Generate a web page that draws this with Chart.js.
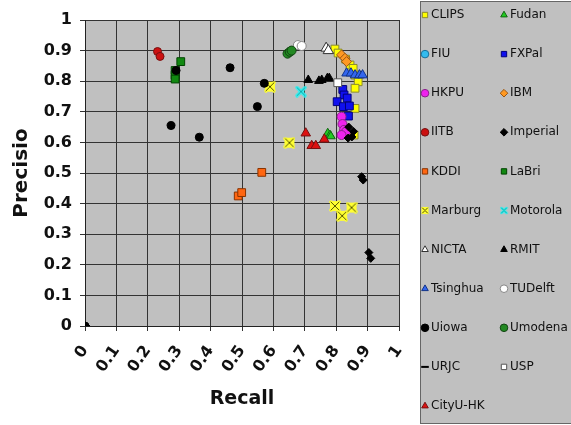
<!DOCTYPE html>
<html>
<head>
<meta charset="utf-8">
<script src="https://cdn.jsdelivr.net/npm/chart.js@4.4.1/dist/chart.umd.min.js"></script>
<style>
  body { margin: 0; background: #fff; }
  #wrap { width: 571px; height: 425px; }
</style>
</head>
<body>
<div id="wrap"><canvas id="prChart" width="571" height="425"></canvas></div>
<script>
// teams in legend order (read row by row, two columns)
const teams = ['CLIPS', 'Fudan', 'FIU', 'FXPal', 'HKPU', 'IBM', 'IITB', 'Imperial',
  'KDDI', 'LaBri', 'Marburg', 'Motorola', 'NICTA', 'RMIT', 'Tsinghua', 'TUDelft',
  'Uiowa', 'Umodena', 'URJC', 'USP', 'CityU-HK'];

const tickValues = [0, 0.1, 0.2, 0.3, 0.4, 0.5, 0.6, 0.7, 0.8, 0.9, 1];

// [recall, precision] per run
const clips = [[0.796, 0.905], [0.806, 0.892], [0.83, 0.872], [0.844, 0.853], [0.854, 0.842],
  [0.86, 0.82], [0.87, 0.798], [0.86, 0.777], [0.86, 0.711], [0.857, 0.624]];
const fudan = [[0.773, 0.63], [0.78, 0.624], [0.783, 0.62]];
const fiu = [];
const fxpal = [[0.821, 0.773], [0.825, 0.755], [0.835, 0.745], [0.803, 0.733], [0.823, 0.717],
  [0.842, 0.719], [0.839, 0.686]];
const hkpu = [[0.817, 0.684], [0.82, 0.66], [0.825, 0.641], [0.831, 0.635], [0.817, 0.624]];
const ibm = [[0.817, 0.886], [0.828, 0.875], [0.833, 0.864]];
const iitb = [[0.231, 0.897], [0.239, 0.881]];
const imperial = [[0.84, 0.65], [0.855, 0.636], [0.85, 0.618], [0.838, 0.614], [0.881, 0.488],
  [0.886, 0.477], [0.904, 0.24], [0.91, 0.221]];
const kddi = [[0.563, 0.502], [0.488, 0.425], [0.499, 0.436]];
const labri = [[0.305, 0.864], [0.287, 0.835], [0.287, 0.82], [0.287, 0.807]];
const marburg = [[0.589, 0.782], [0.651, 0.599], [0.796, 0.392], [0.819, 0.36], [0.849, 0.387]];
const motorola = [[0.688, 0.766]];
const nicta = [[0.768, 0.908], [0.775, 0.9]];
const rmit = [[0.711, 0.804], [0.745, 0.801], [0.754, 0.804], [0.772, 0.81], [0.778, 0.81]];
const tsinghua = [[0.833, 0.826], [0.847, 0.826], [0.86, 0.82], [0.874, 0.82], [0.884, 0.82]];
const tudelft = [[0.678, 0.918], [0.69, 0.915]];
const uiowa = [[0, 0], [0.462, 0.844], [0.274, 0.655], [0.364, 0.617], [0.571, 0.793],
  [0.549, 0.717], [0.29, 0.835]];
const umodena = [[0.645, 0.89], [0.652, 0.896], [0.658, 0.9]];
const urjc = [[0, 0]];
const usp = [[0.805, 0.795]];
const cityu = [[0.703, 0.63], [0.722, 0.589], [0.735, 0.589], [0.762, 0.61]];

const teamPoints = [clips, fudan, fiu, fxpal, hkpu, ibm, iitb, imperial, kddi, labri, marburg,
  motorola, nicta, rmit, tsinghua, tudelft, uiowa, umodena, urjc, usp, cityu];

// X-shaped markers (Marburg / Motorola) drawn into little canvases
function xMarker(fill, line, withBox, size) {
    const c = document.createElement('canvas');
    c.width = size; c.height = size;
    const g = c.getContext('2d');
    const a = 2, b = size - 2;
    if (withBox) {
        g.fillStyle = fill;
        g.fillRect(1, 1, size - 2, size - 2);
    }
    g.lineCap = 'round';
    g.strokeStyle = fill; g.lineWidth = size > 10 ? 3.5 : 2.5;
    g.beginPath(); g.moveTo(a, a); g.lineTo(b, b); g.moveTo(b, a); g.lineTo(a, b); g.stroke();
    g.strokeStyle = line; g.lineWidth = 1;
    g.beginPath(); g.moveTo(a, a); g.lineTo(b, b); g.moveTo(b, a); g.lineTo(a, b); g.stroke();
    return c;
}

const markers = {
    'CLIPS':    { style: 'rect', r: 5.5, bg: '#ffff00', border: '#8a8a30', bw: 1 },
    'Fudan':    { style: 'triangle', r: 5, bg: '#22cc22', border: '#116611', bw: 1 },
    'FIU':      { style: 'circle', r: 4, bg: '#33bbee', border: '#1a6f99', bw: 1 },
    'FXPal':    { style: 'rect', r: 5.5, bg: '#1010ee', border: '#00007a', bw: 1 },
    'HKPU':     { style: 'circle', r: 4.5, bg: '#ee22ee', border: '#882288', bw: 1 },
    'IBM':      { style: 'rectRot', r: 5, bg: '#ff9922', border: '#995511', bw: 1 },
    'IITB':     { style: 'circle', r: 4, bg: '#cc1111', border: '#771111', bw: 1 },
    'Imperial': { style: 'rectRot', r: 4, bg: '#000000', border: '#000000', bw: 1 },
    'KDDI':     { style: 'rect', r: 5.5, bg: '#ff6611', border: '#883300', bw: 1 },
    'LaBri':    { style: 'rect', r: 5.5, bg: '#118811', border: '#004400', bw: 1 },
    'Marburg':  { style: xMarker('#ffff33', '#555500', true, 12), legend: xMarker('#ffff33', '#555500', true, 9),
                  r: 6, bg: '#ffff33', border: '#555500', bw: 1 },
    'Motorola': { style: xMarker('#33eeee', '#11aaaa', false, 12), legend: xMarker('#33eeee', '#11aaaa', false, 9),
                  r: 6, bg: '#33eeee', border: '#11aaaa', bw: 1 },
    'NICTA':    { style: 'triangle', r: 6, bg: '#ffffff', border: '#333333', bw: 1 },
    'RMIT':     { style: 'triangle', r: 5, bg: '#000000', border: '#000000', bw: 1 },
    'Tsinghua': { style: 'triangle', r: 5.5, bg: '#3366ee', border: '#113388', bw: 1 },
    'TUDelft':  { style: 'circle', r: 4.5, bg: '#ffffff', border: '#888888', bw: 1 },
    'Uiowa':    { style: 'circle', r: 4, bg: '#000000', border: '#000000', bw: 1 },
    'Umodena':  { style: 'circle', r: 4.5, bg: '#228822', border: '#114411', bw: 1 },
    'URJC':     { style: 'line', r: 5, bg: '#000000', border: '#000000', bw: 2 },
    'USP':      { style: 'rect', r: 5.5, bg: '#ffffff', border: '#555555', bw: 1 },
    'CityU-HK': { style: 'triangle', r: 5.5, bg: '#dd1111', border: '#771111', bw: 1 }
};

const datasets = teams.map((name, i) => {
    const m = markers[name];
    return {
        label: name,
        data: teamPoints[i].map(p => ({ x: p[0], y: p[1] })),
        pointStyle: m.style,
        pointRadius: m.r,
        backgroundColor: m.bg,
        borderColor: m.border,
        borderWidth: m.bw,
        showLine: false,
        order: teams.length - i // later series on top, like the original
    };
});

const plotBackground = {
    id: 'plotBackground',
    beforeDraw(chart) {
        const { ctx, chartArea: a } = chart;
        ctx.save();
        ctx.fillStyle = '#c0c0c0';
        ctx.fillRect(a.left, a.top, a.right - a.left, a.bottom - a.top);
        ctx.restore();
    }
};

// two-column legend in a grey box on the right
const sideLegend = {
    id: 'sideLegend',
    afterDraw(chart) {
        const ctx = chart.ctx;
        ctx.save();
        ctx.fillStyle = '#c0c0c0';
        ctx.fillRect(420, 1, 151, 423);
        ctx.strokeStyle = '#666';
        ctx.lineWidth = 1;
        ctx.strokeRect(420.5, 1.5, 160, 422);
        chart.data.datasets.forEach((ds, i) => {
            const m = markers[ds.label];
            const col = i % 2;
            const row = Math.floor(i / 2);
            const mx = col ? 504 : 425;
            const y = 15 + row * 39.1;
            ctx.fillStyle = ds.backgroundColor;
            ctx.strokeStyle = ds.borderColor;
            ctx.lineWidth = ds.borderWidth;
            Chart.helpers.drawPoint(ctx, {
                pointStyle: m.legend || ds.pointStyle,
                radius: 3.8,
                rotation: 0,
                borderWidth: ds.borderWidth
            }, mx, y);
            ctx.fillStyle = '#111';
            ctx.font = '12px "DejaVu Sans"';
            ctx.textBaseline = 'middle';
            ctx.textAlign = 'left';
            ctx.fillText(ds.label, mx + 6, y);
        });
        ctx.restore();
    }
};

const tickFont = { family: 'DejaVu Sans', size: 16, weight: 'bold' };
const fmt = v => (v === 0 || v === 1) ? String(v) : v.toFixed(1);

new Chart(document.getElementById('prChart'), {
    type: 'scatter',
    data: { datasets: datasets },
    options: {
        responsive: false,
        animation: false,
        layout: { padding: { left: 0, top: 20, right: 172, bottom: 0 } },
        plugins: {
            legend: { display: false },
            tooltip: { enabled: false }
        },
        scales: {
            x: {
                type: 'linear',
                min: 0, max: 1,
                afterBuildTicks: s => { s.ticks = tickValues.map(v => ({ value: v })); },
                afterFit: s => { s.height = 99; },
                grid: { color: '#333', lineWidth: 1, tickLength: 5, tickColor: '#333' },
                border: { color: '#222', width: 1 },
                ticks: {
                    autoSkip: false,
                    minRotation: 55, maxRotation: 55,
                    padding: 11,
                    color: '#111',
                    font: tickFont,
                    callback: fmt
                },
                title: {
                    display: true,
                    text: 'Recall',
                    color: '#111',
                    font: { family: 'DejaVu Sans', size: 19, weight: 'bold' },
                    padding: { top: 0, bottom: 15 }
                }
            },
            y: {
                type: 'linear',
                min: 0, max: 1,
                afterBuildTicks: s => { s.ticks = tickValues.map(v => ({ value: v })); },
                afterFit: s => { s.width = 85; },
                grid: { color: '#333', lineWidth: 1, tickLength: 5, tickColor: '#333' },
                border: { color: '#222', width: 1 },
                ticks: {
                    autoSkip: false,
                    padding: 8,
                    color: '#111',
                    font: tickFont,
                    callback: fmt
                },
                title: {
                    display: true,
                    text: 'Precisio',
                    color: '#111',
                    font: { family: 'DejaVu Sans', size: 20, weight: 'bold' },
                    padding: { top: 10, bottom: 0 }
                }
            }
        }
    },
    plugins: [plotBackground, sideLegend]
});
</script>
</body>
</html>
